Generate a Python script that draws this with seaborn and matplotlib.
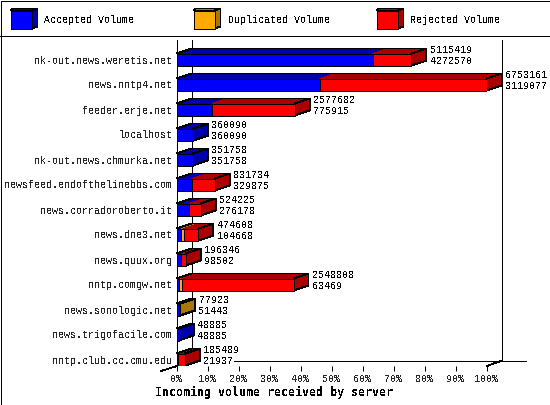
import matplotlib
matplotlib.use("Agg")
import matplotlib.pyplot as plt
from matplotlib.patches import Polygon, Rectangle
import numpy as np
import pandas as pd
import seaborn as sns

servers = ["nk-out.news.weretis.net", "news.nntp4.net", "feeder.erje.net", "localhost",
           "nk-out.news.chmurka.net", "newsfeed.endofthelinebbs.com", "news.corradoroberto.it",
           "news.dne3.net", "news.quux.org", "nntp.comgw.net", "news.sonologic.net",
           "news.trigofacile.com", "nntp.club.cc.cmu.edu"]
incoming = [5115419, 6753161, 2577682, 360090, 351758, 831734, 524225,
            474608, 196346, 2548808, 77923, 48885, 185489]
accepted = [4272570, 3119077, 775915, 360090, 351758, 329875, 276178,
            104668, 98502, 63469, 51443, 48885, 21937]
duplicated = [0, 0, 0, 0, 0, 0, 0, 50000, 0, 50000, 26480, 0, 0]
legend_names = ["Accepted Volume", "Duplicated Volume", "Rejected Volume"]
x_ticks = [0, 10, 20, 30, 40, 50, 60, 70, 80, 90, 100]
title = "Incoming volume received by server"

front = ["#0000ff", "#ffaa00", "#ff0000"]
dark = ["#0000aa", "#aa7700", "#aa0000"]

# size of the 3d offset, in data units (15px across, 5px up)
DX = 15 / 3.1
DY = 5 / 25
FS = 7.2

sns.set_theme(style="white")
plt.rcParams["font.family"] = ["Liberation Mono", "DejaVu Sans Mono"]
plt.rcParams["text.antialiased"] = False
plt.rcParams["lines.antialiased"] = False
plt.rcParams["patch.antialiased"] = False
plt.rcParams["text.color"] = "black"

df = pd.DataFrame({"server": servers, "incoming": incoming, "accepted": accepted, "duplicated": duplicated})
scale = 100 / df["incoming"].max()
df["acc_pct"] = df["accepted"] * scale
df["dup_pct"] = (df["accepted"] + df["duplicated"]) * scale
df["all_pct"] = df["incoming"] * scale

fig = plt.figure(figsize=(5.5, 4.05), dpi=100)

# pixel canvas for the frame, legend and back walls
bg = fig.add_axes([0, 0, 1, 1], zorder=0)
bg.set_xlim(0, 550)
bg.set_ylim(405, 0)
bg.axis("off")
bg.add_patch(Rectangle((0.5, 0.5), 549, 404, fill=False, edgecolor="black", linewidth=0.72))
bg.plot([0, 550], [35.5, 35.5], color="black", linewidth=0.72)
bg.plot([191.5, 191.5], [40, 360.5], color="black", linewidth=0.72)
bg.plot([501.5, 501.5], [40, 360.5], color="black", linewidth=0.72)
bg.plot([234, 526], [360.5, 360.5], color="black", linewidth=0.72)
bg.plot([161, 177], [371, 366], color="black", linewidth=0.6)
bg.plot([487, 502], [366, 360.5], color="black", linewidth=0.6)

for name, x0, xt, f, d in zip(legend_names, [10.5, 193.5, 376.5], [44.5, 227.5, 410.5], front, dark):
    bg.add_patch(Polygon([(x0, 10.5), (x0 + 2, 8.5), (x0 + 27, 8.5), (x0 + 21, 10.5)], facecolor=d, edgecolor="black", linewidth=0.72))
    bg.add_patch(Polygon([(x0 + 21, 10.5), (x0 + 27, 8.5), (x0 + 27, 26.5), (x0 + 21, 28.5)], facecolor=d, edgecolor="black", linewidth=0.72))
    bg.add_patch(Rectangle((x0, 10.5), 21, 18, facecolor=f, edgecolor="black", linewidth=0.72))
    bg.text(xt, 20, name, fontsize=FS, va="center", ha="left")

ax = fig.add_axes([176.5 / 550, 39 / 405, 310 / 550, 326 / 405], zorder=1)
ax.patch.set_visible(False)

# stacked look: longest bar first, shorter ones painted over it
for col, c in zip(["all_pct", "dup_pct", "acc_pct"], [front[2], front[1], front[0]]):
    sns.barplot(data=df, x=col, y="server", order=servers, color=c, saturation=1, width=0.48,
                edgecolor="black", linewidth=0.72, ax=ax, zorder=3)

ax.set_xlim(0, 100)
ax.set_ylim(12.26, -0.78)
ax.set_xlabel("")
ax.set_ylabel("")
ax.set_xticks(x_ticks)
ax.set_xticklabels([f"{t}%" for t in x_ticks], fontsize=FS)
ax.tick_params(axis="x", bottom=True, length=3.6, width=0.72, pad=2, color="black")
ax.tick_params(axis="y", left=False, length=0, labelsize=FS, pad=3)
for s in ["top", "right", "bottom"]:
    ax.spines[s].set_visible(False)
ax.spines["left"].set_linewidth(0.72)
ax.spines["left"].set_color("black")

# 3d faces on top of the flat bars
for i, row in df.iterrows():
    top = i - 0.24
    bot = i + 0.24
    edges = [0, row["acc_pct"], row["dup_pct"], row["all_pct"]]
    last = 0
    for k in range(3):
        a, b = edges[k], edges[k + 1]
        if b - a <= 0:
            continue
        ax.add_patch(Polygon([(a, top), (a + DX, top - DY), (b + DX, top - DY), (b, top)], facecolor=dark[k],
                             edgecolor="none", clip_on=False, zorder=2))
        last = k
    end = row["all_pct"]
    ax.plot([0, DX, end + DX, end], [top, top - DY, top - DY, top], color="black", linewidth=0.72, clip_on=False, zorder=2.5)
    ax.add_patch(Polygon([(end, top), (end + DX, top - DY), (end + DX, bot - DY), (end, bot)], facecolor=dark[last],
                         edgecolor="black", linewidth=0.72, clip_on=False, zorder=2))
    ax.text(end + DX + 1.2, i - 0.38, str(row["incoming"]), fontsize=FS, va="center", ha="left", clip_on=False)
    ax.text(end + DX + 1.2, i + 0.06, str(row["accepted"]), fontsize=FS, va="center", ha="left", clip_on=False)

fig.text(274 / 550, 1 - 392 / 405, title, fontsize=8.4, fontweight="bold", family="DejaVu Sans Mono", ha="center", va="center")

fig.savefig("out.png", dpi=100, facecolor="white")
